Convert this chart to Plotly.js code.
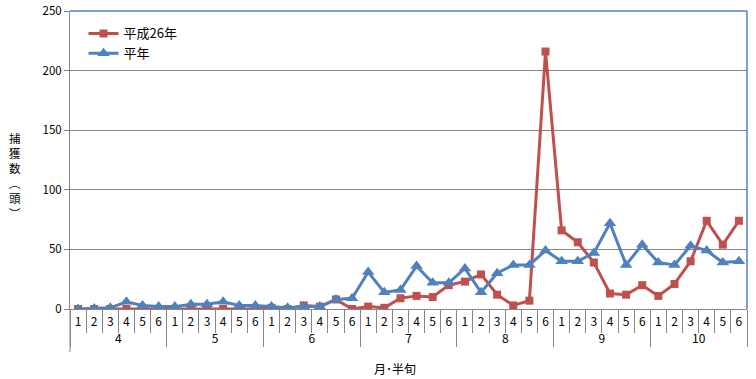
<!DOCTYPE html>
<html>
<head>
<meta charset="utf-8">
<script src="https://cdn.plot.ly/plotly-3.0.1.min.js"></script>
<style>html,body{margin:0;padding:0;background:#fff;}#chart{width:756px;height:379px;}</style>
</head>
<body>
<div id="chart"></div>
<script>
// Categories
const months = ['4', '5', '6', '7', '8', '9', '10'];
const halves = ['1', '2', '3', '4', '5', '6'];
// Series values (per half-month, months 4..10)
const seriesH26Name = '平成26年';
const seriesH26 = [
  0, 0, 0, 0, 0, 0,
  0, 0, 0, 0, 0, 0,
  1, 0, 3, 2, 8, 0,
  2, 1, 9, 11, 10, 20,
  23, 29, 12, 3, 7, 216,
  66, 56, 39, 13, 12, 20,
  11, 21, 40, 74, 54, 74
];
const seriesNormName = '平年';
const seriesNorm = [
  0, 0.5, 1, 6, 3, 2,
  2, 4, 4, 6, 3, 3,
  2, 1, 2, 2, 8, 9,
  31, 14, 16, 36, 22, 22,
  34, 14, 30, 37, 37, 49,
  40, 40, 47, 72, 37, 54,
  39, 37, 53, 49, 39, 40
];
const yTicks = [0, 50, 100, 150, 200, 250];

const outer = [], inner = [];
months.forEach(m => halves.forEach(h => { outer.push(m); inner.push(h); }));

const font = "'Noto Sans CJK JP', 'DejaVu Sans', sans-serif";

const traces = [
  {
    x: [outer, inner], y: seriesH26, name: seriesH26Name, type: 'scatter', mode: 'lines+markers',
    line: {color: '#C0504D', width: 3},
    marker: {symbol: 'square', size: 8, color: '#C0504D'}
  },
  {
    x: [outer, inner], y: seriesNorm, name: seriesNormName, type: 'scatter', mode: 'lines+markers',
    line: {color: '#4F81BD', width: 3},
    marker: {symbol: 'triangle-up', size: 11, color: '#4F81BD'}
  }
];

const layout = {
  width: 756, height: 379,
  margin: {l: 70, r: 9, t: 11, b: 70},
  paper_bgcolor: '#fff', plot_bgcolor: '#fff',
  font: {family: font, size: 11, color: '#000'},
  showlegend: true,
  legend: {x: 0.02, y: 0.975, xanchor: 'left', yanchor: 'top', bgcolor: 'rgba(0,0,0,0)',
           font: {family: font, size: 13, color: '#000'}, itemwidth: 30},
  xaxis: {
    type: 'multicategory', range: [-0.5, outer.length - 0.5], autorange: false,
    tickangle: 0, ticklabelstandoff: 2,
    showline: true, linecolor: '#868686', linewidth: 1,
    ticks: 'outside', ticklen: 23, tickcolor: '#868686', tickson: 'boundaries',
    showdividers: true, dividercolor: '#868686', dividerwidth: 1,
    showgrid: false, zeroline: false,
    tickfont: {family: font, size: 12, color: '#000'}
  },
  yaxis: {
    range: [0, 250], tickvals: yTicks, ticktext: yTicks.map(String),
    showline: true, linecolor: '#868686', linewidth: 1,
    ticks: 'outside', ticklen: 5, tickcolor: '#868686',
    showgrid: true, gridcolor: '#868686', gridwidth: 1, zeroline: false,
    tickfont: {family: font, size: 11.5, color: '#000'}
  },
  shapes: [
    {type: 'line', xref: 'paper', yref: 'paper', x0: 0, x1: 1, y0: 1, y1: 1, line: {color: '#4F81BD', width: 1.5}},
    {type: 'line', xref: 'paper', yref: 'paper', x0: 1, x1: 1, y0: 0, y1: 1, line: {color: '#4F81BD', width: 1.5}},
    {type: 'line', xref: 'paper', yref: 'paper', x0: 0, x1: 0, y0: 0, y1: -0.145, line: {color: '#868686', width: 1}}
  ],
  annotations: [
    {text: '捕<br>獲<br>数<br>︵<br>頭<br>︶', xref: 'paper', yref: 'paper', x: -0.081, y: (309 - 175) / 298,
     xanchor: 'center', yanchor: 'middle', showarrow: false, align: 'center',
     font: {family: font, size: 11.5, color: '#000'}},
    {text: '月･半旬', xref: 'paper', yref: 'paper', x: 0.48, y: -0.165,
     xanchor: 'center', yanchor: 'top', showarrow: false,
     font: {family: font, size: 12, color: '#000'}}
  ]
};

Plotly.newPlot('chart', traces, layout, {displayModeBar: false, staticPlot: true});
</script>
</body>
</html>
